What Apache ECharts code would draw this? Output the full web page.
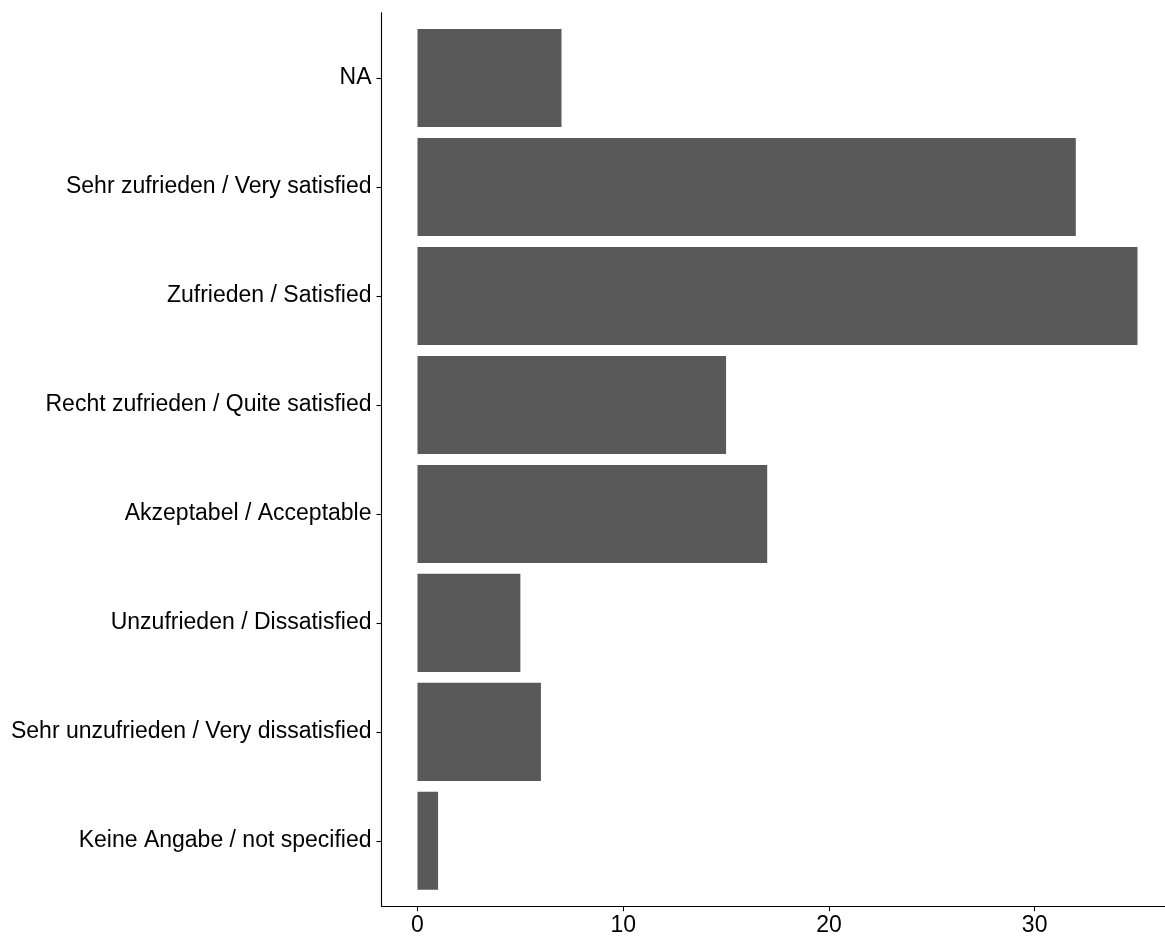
<!DOCTYPE html>
<html>
<head>
<meta charset="utf-8">
<script src="https://cdn.jsdelivr.net/npm/echarts@6/dist/echarts.min.js"></script>
<style>
html,body{margin:0;padding:0;background:#fff;overflow:hidden;}
#chart{width:1165px;height:937px;}
</style>
</head>
<body>
<div id="chart"></div>
<script>
// Categories listed bottom-to-top (factor level order)
const categories = [
  "Keine Angabe / not specified",
  "Sehr unzufrieden / Very dissatisfied",
  "Unzufrieden / Dissatisfied",
  "Akzeptabel / Acceptable",
  "Recht zufrieden / Quite satisfied",
  "Zufrieden / Satisfied",
  "Sehr zufrieden / Very satisfied",
  "NA"
];
const counts = [1, 6, 5, 17, 15, 35, 32, 7];
const xTicks = [0, 10, 20, 30];
const yTicks = [1, 2, 3, 4, 5, 6, 7, 8];

const chart = echarts.init(document.getElementById('chart'), null, {renderer: 'canvas'});
const fontFamily = 'Liberation Sans, Arial, Helvetica, sans-serif';
const data = counts.map((v, i) => [v, i + 1]);

chart.setOption({
  animation: false,
  backgroundColor: '#ffffff',
  grid: {left: 381.5, width: 792, top: 12.7, bottom: 30.8, containLabel: false, outerBoundsMode: 'none'},
  xAxis: {
    type: 'value',
    min: -1.75,
    max: 36.75,
    axisLine: {show: true, onZero: false, lineStyle: {color: '#000', width: 1.1}},
    axisTick: {show: true, length: 5, customValues: xTicks, lineStyle: {color: '#000', width: 1.1}},
    axisLabel: {customValues: xTicks, color: '#000', fontSize: 23, fontFamily: fontFamily, margin: 8},
    splitLine: {show: false}
  },
  yAxis: {
    type: 'value',
    min: 0.4,
    max: 8.6,
    axisLine: {show: true, onZero: false, lineStyle: {color: '#000', width: 1.1}},
    axisTick: {show: true, length: 5, customValues: yTicks, lineStyle: {color: '#000', width: 1.1}},
    axisLabel: {
      customValues: yTicks,
      color: '#000', fontSize: 23, fontFamily: fontFamily, margin: 10,
      formatter: v => categories[Math.round(v) - 1]
    },
    splitLine: {show: false}
  },
  series: [{
    type: 'custom',
    data: data,
    encode: {x: 0, y: 1},
    clip: false,
    renderItem: function (params, api) {
      const v = api.value(0), c = api.value(1);
      const p0 = api.coord([0, c + 0.45]);
      const p1 = api.coord([v, c - 0.45]);
      return {
        type: 'rect',
        shape: {x: p0[0], y: p0[1], width: p1[0] - p0[0], height: p1[1] - p0[1]},
        style: {fill: '#595959'}
      };
    }
  }]
});
</script>
</body>
</html>
